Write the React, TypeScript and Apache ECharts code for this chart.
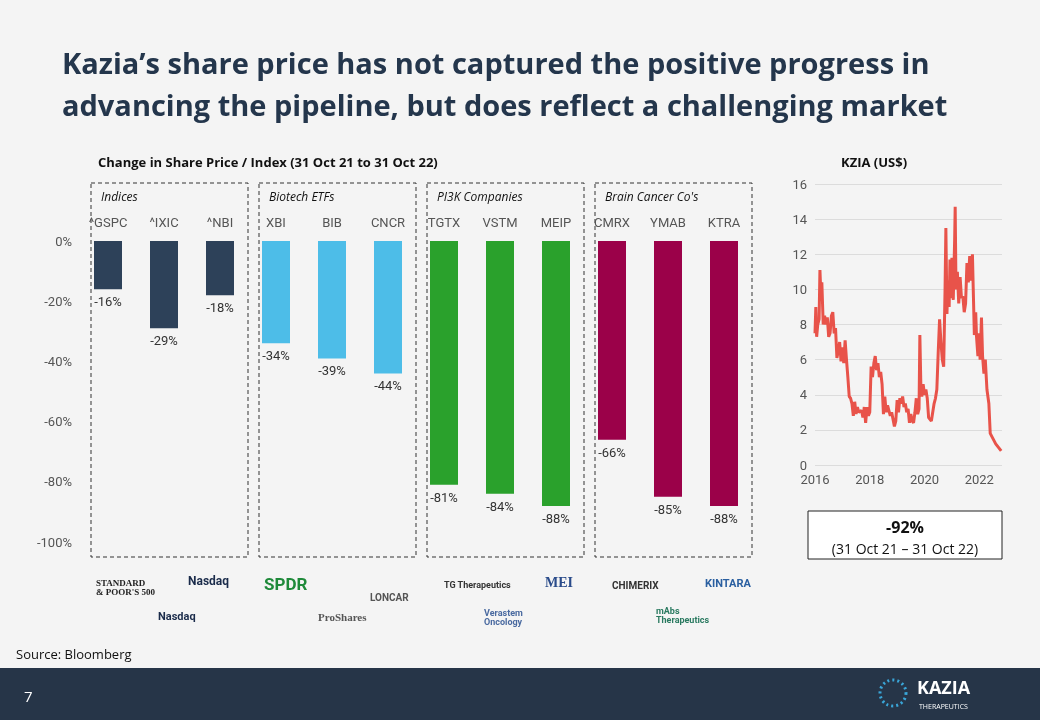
import React, { useRef, useEffect } from 'react';
import * as echarts from 'echarts';

const tickers = ['^GSPC', '^IXIC', '^NBI', 'XBI', 'BIB', 'CNCR', 'TGTX', 'VSTM', 'MEIP', 'CMRX', 'YMAB', 'KTRA'];
const changes = [-16, -29, -18, -34, -39, -44, -81, -84, -88, -66, -85, -88];
const groupNames = ['Indices', 'Biotech ETFs', 'PI3K Companies', "Brain Cancer Co's"];
const groupColors = ['#2d4159', '#4dbde8', '#2aa12c', '#9b0149'];

const kziaYears = [2016.0, 2016.03, 2016.06, 2016.1, 2016.15, 2016.18, 2016.22, 2016.25, 2016.3, 2016.35, 2016.4, 2016.45, 2016.5, 2016.55, 2016.6, 2016.65, 2016.7, 2016.75, 2016.8, 2016.85, 2016.9, 2016.95, 2017.0, 2017.05, 2017.1, 2017.15, 2017.2, 2017.25, 2017.3, 2017.35, 2017.4, 2017.45, 2017.5, 2017.55, 2017.6, 2017.7, 2017.75, 2017.8, 2017.85, 2017.9, 2017.95, 2018.0, 2018.05, 2018.1, 2018.15, 2018.2, 2018.25, 2018.3, 2018.35, 2018.4, 2018.45, 2018.5, 2018.55, 2018.6, 2018.65, 2018.75, 2018.8, 2018.9, 2018.95, 2019.0, 2019.05, 2019.1, 2019.15, 2019.2, 2019.25, 2019.3, 2019.35, 2019.4, 2019.45, 2019.5, 2019.55, 2019.6, 2019.65, 2019.7, 2019.75, 2019.8, 2019.83, 2019.87, 2019.9, 2019.95, 2020.0, 2020.05, 2020.1, 2020.15, 2020.2, 2020.25, 2020.3, 2020.35, 2020.4, 2020.45, 2020.5, 2020.55, 2020.6, 2020.65, 2020.7, 2020.75, 2020.78, 2020.82, 2020.85, 2020.9, 2020.93, 2020.97, 2021.0, 2021.05, 2021.1, 2021.12, 2021.15, 2021.2, 2021.25, 2021.3, 2021.35, 2021.4, 2021.45, 2021.5, 2021.55, 2021.6, 2021.65, 2021.7, 2021.75, 2021.78, 2021.82, 2021.87, 2021.9, 2021.95, 2022.0, 2022.03, 2022.08, 2022.12, 2022.17, 2022.22, 2022.28, 2022.35, 2022.4, 2022.5, 2022.6, 2022.7, 2022.8];
const kziaPrices = [7.5, 9.0, 7.3, 8.0, 8.3, 11.1, 9.5, 10.4, 8.0, 8.5, 8.0, 8.4, 7.3, 7.5, 8.5, 8.7, 7.5, 7.8, 6.1, 6.5, 7.0, 5.9, 6.7, 5.8, 7.1, 6.0, 5.0, 3.9, 3.8, 3.5, 2.8, 3.6, 2.9, 3.3, 3.0, 3.1, 2.7, 3.3, 2.4, 3.3, 2.8, 3.0, 5.6, 5.0, 5.8, 6.2, 5.4, 5.8, 5.0, 5.3, 4.6, 2.9, 3.9, 3.0, 3.4, 2.8, 3.0, 2.2, 2.5, 3.7, 3.0, 3.8, 3.5, 3.9, 3.3, 3.5, 3.0, 3.2, 2.4, 2.9, 2.5, 2.4, 3.0, 3.8, 2.9, 3.2, 7.4, 4.2, 3.9, 4.6, 4.0, 4.3, 3.8, 2.7, 2.6, 2.5, 3.0, 3.5, 3.8, 4.3, 6.4, 8.3, 7.0, 6.0, 5.6, 10.0, 13.5, 8.6, 10.5, 9.0, 11.7, 9.5, 11.8, 9.4, 12.8, 14.7, 10.0, 11.0, 9.2, 10.7, 9.5, 9.6, 8.7, 9.2, 11.5, 10.4, 11.9, 10.5, 12.0, 10.0, 7.4, 8.7, 7.3, 6.2, 7.5, 6.0, 8.4, 6.2, 5.2, 6.0, 4.3, 3.5, 1.8, 1.5, 1.2, 1.0, 0.8];

const logos = [
  { text: 'STANDARD\n& POOR\'S 500', x: 96, y: 578, color: '#222', size: 9, font: 'serif' },
  { text: 'Nasdaq', x: 188, y: 575, color: '#1a2b4a', size: 12, font: 'Roboto' },
  { text: 'SPDR', x: 264, y: 575, color: '#1f8a3a', size: 17, font: 'Roboto' },
  { text: 'LONCAR', x: 370, y: 592, color: '#555', size: 10, font: 'Roboto' },
  { text: 'TG Therapeutics', x: 444, y: 580, color: '#333', size: 9, font: 'Roboto' },
  { text: 'MEI', x: 545, y: 575, color: '#2a4b8a', size: 14, font: 'serif' },
  { text: 'CHIMERIX', x: 612, y: 580, color: '#333', size: 10, font: 'Roboto' },
  { text: 'KINTARA', x: 705, y: 578, color: '#2a5fa0', size: 11, font: 'Roboto' },
  { text: 'Nasdaq', x: 158, y: 611, color: '#1a2b4a', size: 11, font: 'Roboto' },
  { text: 'ProShares', x: 318, y: 611, color: '#555', size: 11, font: 'serif' },
  { text: 'Verastem\nOncology', x: 484, y: 608, color: '#4a6aa0', size: 9, font: 'Roboto' },
  { text: 'mAbs\nTherapeutics', x: 656, y: 606, color: '#2a7a60', size: 9, font: 'Roboto' },
];

export default function App() {
  const ref = useRef<HTMLDivElement>(null);

  useEffect(() => {
    if (!ref.current) return;
    const chart = echarts.init(ref.current, null, { renderer: 'svg' });

    const graphics: any[] = [
      { type: 'rect', shape: { x: 0, y: 0, width: 1040, height: 720 }, style: { fill: '#f4f4f4' }, z: -10 },
      { type: 'rect', shape: { x: 0, y: 668, width: 1040, height: 52 }, style: { fill: '#263548' } },
      { type: 'text', x: 62, y: 41, style: { text: 'Kazia’s share price has not captured the positive progress in\nadvancing the pipeline, but does reflect a challenging market', font: 'bold 29px "Open Sans"', fill: '#24364c', lineHeight: 42 } },
      { type: 'text', x: 98, y: 155, style: { text: 'Change in Share Price / Index (31 Oct 21 to 31 Oct 22)', font: 'bold 13px "Open Sans"', fill: '#111' } },
      { type: 'text', x: 841, y: 155, style: { text: 'KZIA (US$)', font: 'bold 13px "Open Sans"', fill: '#111' } },
      { type: 'rect', shape: { x: 808, y: 511, width: 194, height: 48 }, style: { fill: '#fff', stroke: '#222', lineWidth: 1 } },
      { type: 'text', x: 905, y: 527, style: { text: '-92%', font: 'bold 16px "Open Sans"', fill: '#111', align: 'center', verticalAlign: 'middle' } },
      { type: 'text', x: 905, y: 548, style: { text: '(31 Oct 21 – 31 Oct 22)', font: '14px "Open Sans"', fill: '#111', align: 'center', verticalAlign: 'middle' } },
      { type: 'text', x: 16, y: 647, style: { text: 'Source: Bloomberg', font: '13px "Open Sans"', fill: '#111' } },
      { type: 'text', x: 24, y: 688, style: { text: '7', font: '15px "Open Sans"', fill: '#fff' } },
      { type: 'circle', shape: { cx: 893, cy: 693, r: 13 }, style: { fill: 'none', stroke: '#3aa6d8', lineWidth: 3, lineDash: [2, 3] } },
      { type: 'text', x: 917, y: 678, style: { text: 'KAZIA', font: 'bold 18px "Open Sans"', fill: '#fff' } },
      { type: 'text', x: 919, y: 703, style: { text: 'THERAPEUTICS', font: '7px "Open Sans"', fill: '#fff' } },
    ];
    groupNames.forEach((g, i) => {
      const x = 91 + i * 168;
      graphics.push({ type: 'rect', shape: { x, y: 183, width: 157, height: 374 }, style: { fill: 'none', stroke: '#333', lineWidth: 1, lineDash: [4, 3] } });
      graphics.push({ type: 'text', x: x + 10, y: 190, style: { text: g, font: 'italic 12px "Open Sans"', fill: '#111' } });
    });
    logos.forEach((l) => {
      graphics.push({ type: 'text', x: l.x, y: l.y, style: { text: l.text, font: `bold ${l.size}px ${l.font}`, fill: l.color } });
    });

    chart.setOption({
      animation: false,
      graphic: graphics,
      grid: [
        { left: 80, width: 672, top: 241, height: 301 },
        { left: 815, right: 38, top: 184, height: 281 },
      ],
      xAxis: [
        {
          gridIndex: 0, type: 'category', data: tickers, position: 'top',
          axisLine: { show: false }, axisTick: { show: false },
          axisLabel: { color: '#555', fontSize: 13, fontFamily: 'Roboto', margin: 12 },
        },
        {
          gridIndex: 1, type: 'value', min: 2016, max: 2022.83, interval: 2,
          axisLine: { show: false }, axisTick: { show: false }, splitLine: { show: false },
          axisLabel: { color: '#555', fontSize: 13, fontFamily: 'Roboto', showMaxLabel: false, formatter: (v: number) => String(v) },
        },
      ],
      yAxis: [
        {
          gridIndex: 0, type: 'value', min: -100, max: 0, interval: 20,
          axisLine: { show: false }, axisTick: { show: false }, splitLine: { show: false },
          axisLabel: { color: '#555', fontSize: 13, fontFamily: 'Roboto', formatter: (v: number) => `${v}%` },
        },
        {
          gridIndex: 1, type: 'value', min: 0, max: 16, interval: 2,
          axisLine: { show: false }, axisTick: { show: false },
          splitLine: { lineStyle: { color: '#dcdcdc' } },
          axisLabel: { color: '#555', fontSize: 13, fontFamily: 'Roboto' },
        },
      ],
      series: [
        {
          type: 'bar', xAxisIndex: 0, yAxisIndex: 0, barWidth: 28,
          data: changes.map((v, i) => ({ value: v, itemStyle: { color: groupColors[Math.floor(i / 3)] } })),
          label: { show: true, position: 'bottom', distance: 6, color: '#333', fontSize: 13, fontFamily: 'Roboto', formatter: (p: any) => `${p.value}%` },
        },
        {
          type: 'line', xAxisIndex: 1, yAxisIndex: 1, showSymbol: false,
          data: kziaYears.map((y, i) => [y, kziaPrices[i]]),
          lineStyle: { color: '#e8534a', width: 3 },
        },
      ],
    });
    return () => chart.dispose();
  }, []);

  return <div ref={ref} style={{ position: 'fixed', left: 0, top: 0, width: 1040, height: 720 }} />;
}
